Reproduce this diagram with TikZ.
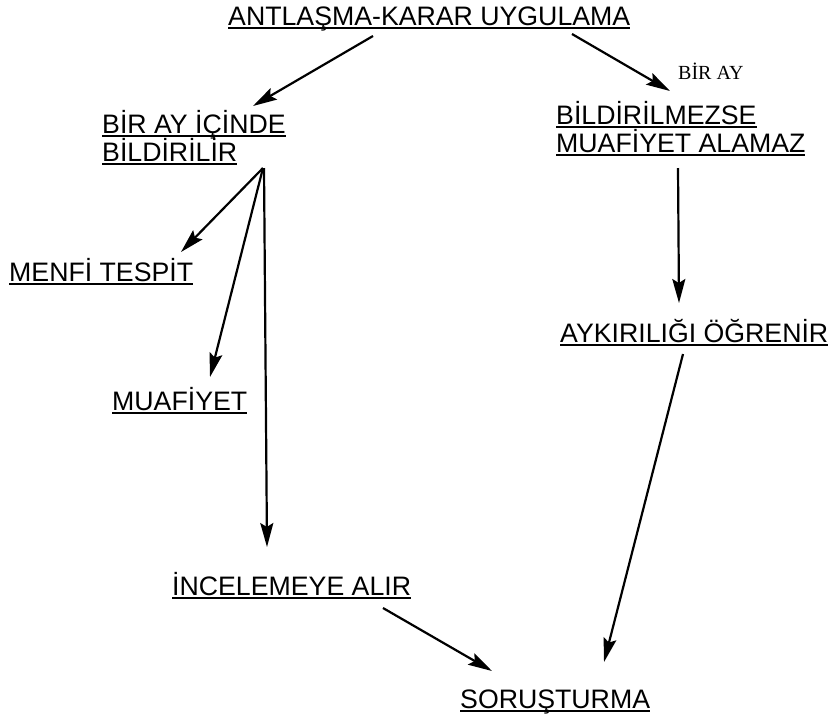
\documentclass[tikz,border=0pt]{standalone}
\usepackage{fontspec}
\setmainfont{Liberation Sans}
\newfontfamily\serifont{Liberation Serif}
\usetikzlibrary{arrows.meta}
\newcommand\ulin[1]{\setbox0\hbox{#1}\rlap{\rule[-4pt]{\wd0}{1.8pt}}\box0}
\tikzset{
  lbl/.style={anchor=base west, inner sep=0pt, font=\fontsize{26.7}{28}\selectfont},
  note/.style={anchor=base west, inner sep=0pt, font=\fontsize{20}{22}\selectfont\serifont},
  arr/.style={line width=2.2pt, -{Stealth[length=24pt,width=13pt,inset=4pt]}}
}
\begin{document}
\begin{tikzpicture}[x=1pt,y=-1pt]
\useasboundingbox (0,0) rectangle (834,721);
\node[lbl] (title) at (228,25) {\ulin{ANTLAŞMA-KARAR UYGULAMA}};
\node[lbl] (bay1) at (102,133) {\ulin{BİR AY İÇİNDE}};
\node[lbl] (bay2) at (102,161) {\ulin{BİLDİRİLİR}};
\node[note] (biray) at (678,79) {BİR AY};
\node[lbl] (bm1) at (556,124) {\ulin{BİLDİRİLMEZSE}};
\node[lbl] (bm2) at (556,152) {\ulin{MUAFİYET ALAMAZ}};
\node[lbl] (menfi) at (9,281) {\ulin{MENFİ TESPİT}};
\node[lbl] (muaf) at (112,410) {\ulin{MUAFİYET}};
\node[lbl] (aykiri) at (560,342) {\ulin{AYKIRILIĞI ÖĞRENİR}};
\node[lbl] (incel) at (172,595) {\ulin{İNCELEMEYE ALIR}};
\node[lbl] (sorus) at (460,708) {\ulin{SORUŞTURMA}};

\draw[arr] ([shift={(145,11)}]title.base west) -- ([shift={(151,-27)}]bay1.base west);
\draw[arr] ([shift={(344,9)}]title.base west) -- ([shift={(114,-33)}]bm1.base west);
\draw[arr] ([shift={(161,7)}]bay2.base west) -- ([shift={(172,-29)}]menfi.base west);
\draw[arr] ([shift={(161,7)}]bay2.base west) -- ([shift={(98,-33)}]muaf.base west);
\draw[arr] ([shift={(162,7)}]bay2.base west) -- ([shift={(95,-48)}]incel.base west);
\draw[arr] ([shift={(122,16)}]bm2.base west) -- ([shift={(119,-39)}]aykiri.base west);
\draw[arr] ([shift={(123,12)}]aykiri.base west) -- ([shift={(144,-46)}]sorus.base west);
\draw[arr] ([shift={(211,13)}]incel.base west) -- ([shift={(32,-37)}]sorus.base west);
\end{tikzpicture}
\end{document}
